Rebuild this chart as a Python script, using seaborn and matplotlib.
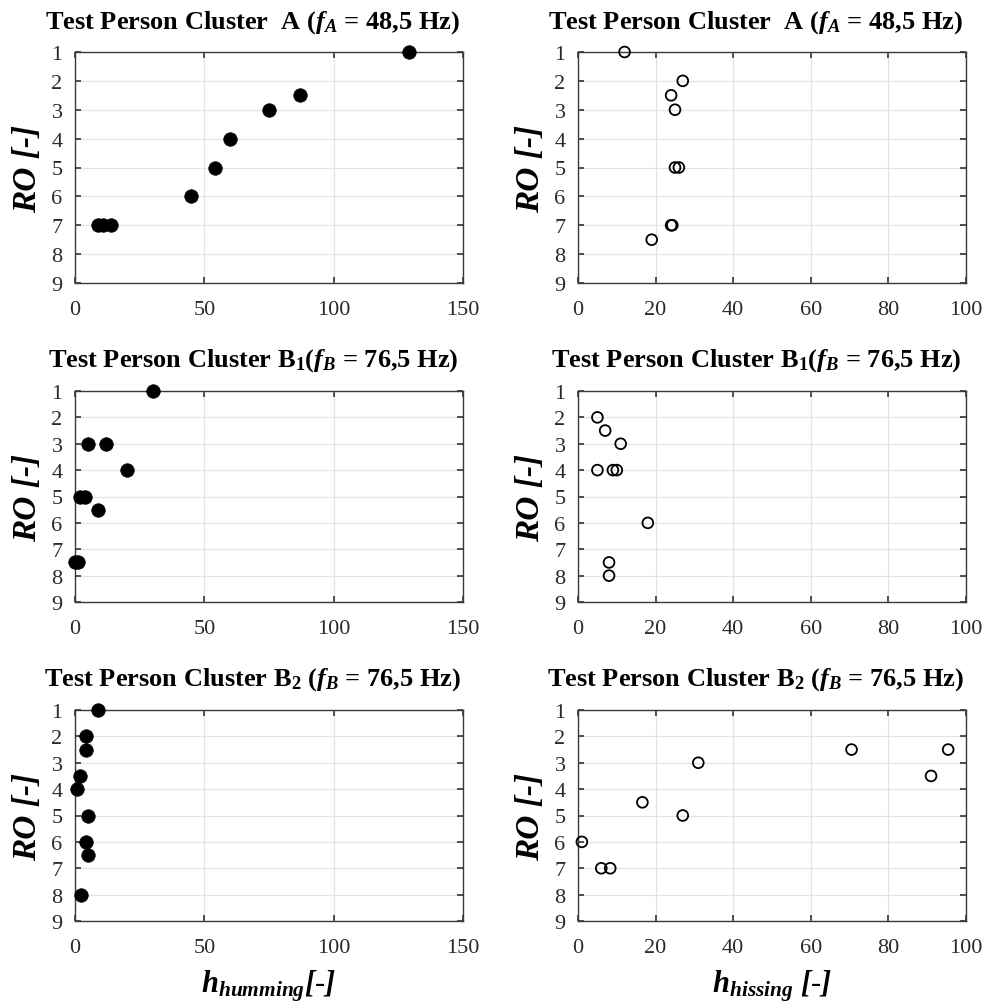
import matplotlib
matplotlib.use('Agg')
import matplotlib.pyplot as plt
import pandas as pd
import seaborn as sns

# Rank order (RO) vs. h values per cluster
a_hum_h = [129, 87, 75, 60, 54, 45, 9, 11, 14]
a_hum_ro = [1, 2.5, 3, 4, 5, 6, 7, 7, 7]
a_his_h = [12, 27, 24, 25, 25, 26, 24, 24.3, 19]
a_his_ro = [1, 2, 2.5, 3, 5, 5, 7, 7, 7.5]

b1_hum_h = [30, 5, 12, 20, 2, 4, 9, 0, 1.3]
b1_hum_ro = [1, 3, 3, 4, 5, 5, 5.5, 7.5, 7.5]
b1_his_h = [5, 7, 11, 5, 9, 10, 18, 8, 8]
b1_his_ro = [2, 2.5, 3, 4, 4, 4, 6, 7.5, 8]

b2_hum_h = [9, 4.2, 4.2, 1.9, 0.9, 5, 4.2, 5, 2.2]
b2_hum_ro = [1, 2, 2.5, 3.5, 4, 5, 6, 6.5, 8]
b2_his_h = [1, 6, 8.3, 16.6, 27, 31, 70.5, 91, 95.4]
b2_his_ro = [6, 7, 7, 4.5, 5, 3, 2.5, 3.5, 2.5]

titles = [
    r"Test Person Cluster  A ($\mathbfit{f}_{\mathbfit{A}}$ = 48,5 Hz)",
    r"Test Person Cluster $\mathbf{B}_{\mathbf{1}}$($\mathbfit{f}_{\mathbfit{B}}$ = 76,5 Hz)",
    r"Test Person Cluster $\mathbf{B}_{\mathbf{2}}$ ($\mathbfit{f}_{\mathbfit{B}}$ = 76,5 Hz)",
]
hum_ticks = [0, 50, 100, 150]
his_ticks = [0, 20, 40, 60, 80, 100]
ro_ticks = [1, 2, 3, 4, 5, 6, 7, 8, 9]

sns.set_theme(style='ticks')
plt.rcParams['font.family'] = ['Liberation Serif', 'DejaVu Serif']
plt.rcParams['mathtext.fontset'] = 'custom'
plt.rcParams['mathtext.rm'] = 'Liberation Serif'
plt.rcParams['mathtext.it'] = 'Liberation Serif:italic'
plt.rcParams['mathtext.bf'] = 'Liberation Serif:bold'
plt.rcParams['mathtext.bfit'] = 'Liberation Serif:italic:bold'

fig = plt.figure(figsize=(9.85, 10.04), dpi=100)
W, H = 985, 1004

cols = [(75, 388), (578, 388)]
rows = [(53, 284), (392, 603), (711, 922)]
title_base = [29, 367, 686]
title_cx = [253, 756]

data = [
    [(a_hum_h, a_hum_ro), (a_his_h, a_his_ro)],
    [(b1_hum_h, b1_hum_ro), (b1_his_h, b1_his_ro)],
    [(b2_hum_h, b2_hum_ro), (b2_his_h, b2_his_ro)],
]

for r, (top, bot) in enumerate(rows):
    for c, (left, width) in enumerate(cols):
        ax = fig.add_axes([left / W, 1 - bot / H, width / W, (bot - top) / H])
        h, ro = data[r][c]
        df = pd.DataFrame({'h': h, 'ro': ro})
        if c == 0:
            sns.scatterplot(data=df, x='h', y='ro', ax=ax, color='black',
                            s=95, edgecolor='black', linewidth=0.5, clip_on=False, zorder=3)
            ax.set_xlim(0, 150)
            ax.set_xticks(hum_ticks)
        else:
            sns.scatterplot(data=df, x='h', y='ro', ax=ax, facecolor='none',
                            s=60, edgecolor='black', linewidth=1.3, clip_on=False, zorder=3)
            ax.set_xlim(0, 100)
            ax.set_xticks(his_ticks)
        ax.set_ylim(9, 1)
        ax.set_yticks(ro_ticks)
        ax.grid(True, color='#e3e3e3', linewidth=0.9)
        ax.set_axisbelow(True)
        for sp in ax.spines.values():
            sp.set_visible(True)
            sp.set_color('#3a3a3a')
            sp.set_linewidth(1.0)
        ax.tick_params(direction='in', top=True, right=True, length=4,
                       labelsize=16, colors='#3a3a3a')
        ax.tick_params(axis='x', pad=12, labelcolor='#2a2a2a')
        ax.tick_params(axis='y', pad=9, labelcolor='#2a2a2a')
        ax.set_ylabel('RO [-]', fontsize=24, fontweight='bold', style='italic',
                      color='black', labelpad=6)
        if r == 2:
            if c == 0:
                xl = r"$\mathbfit{h}_{\mathbfit{humming}}\mathbfit{[\text{-}]}$"
            else:
                xl = r"$\mathbfit{h}_{\mathbfit{hissing}}$ $\mathbfit{[\text{-}]}$"
            ax.set_xlabel(xl, fontsize=22, color='black', labelpad=8)
        else:
            ax.set_xlabel('')
        fig.text(title_cx[c] / W, 1 - title_base[r] / H, titles[r], ha='center',
                 va='baseline', fontsize=19, fontweight='bold', color='black')

fig.savefig('out.png', dpi=100)
